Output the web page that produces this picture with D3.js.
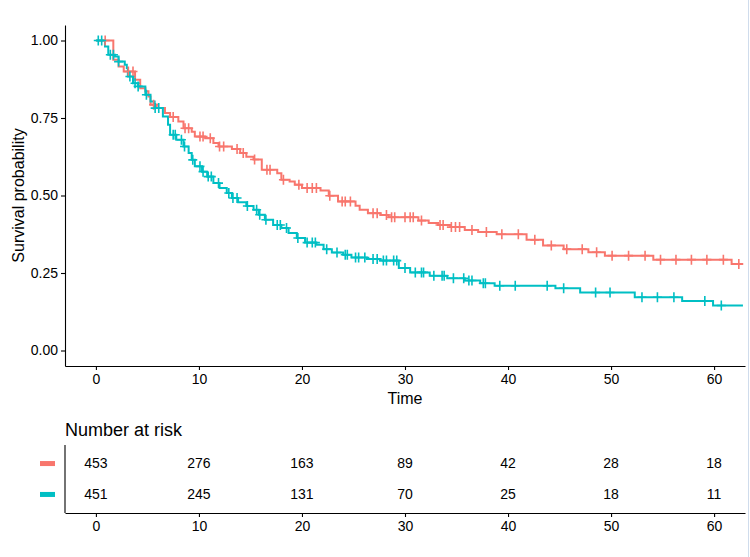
<!DOCTYPE html>
<html>
<head>
<meta charset="utf-8">
<script src="https://cdn.jsdelivr.net/npm/d3@7"></script>
<style>
  html, body { margin: 0; padding: 0; background: #fff; }
  svg { display: block; }
  text { font-family: "Liberation Sans", Arial, sans-serif; fill: #000; }
</style>
</head>
<body>
<svg id="chart" width="750" height="557"></svg>
<script>
// ---------- data ----------
const seriesNames = ["strata1", "strata2"];
const seriesColors = ["#F8766D", "#00BFC4"];

// red curve: step times and survival after the step
const redTimes = [0, 1.69, 2.2, 2.7, 3.8, 4.3, 4.8, 5.1, 5.3, 5.9, 6.7, 7.2, 8.0, 8.5, 9.3, 9.6, 10.6, 11.4, 11.9, 13.2, 14.0, 14.6, 15.3, 16.1, 17.6, 18.0, 18.8, 19.3, 20.0, 21.8, 22.6, 23.5, 25.2, 25.6, 26.4, 27.6, 28.4, 31.3, 32.3, 33.2, 34.4, 35.8, 37.1, 38.9, 41.8, 43.4, 45.4, 47.8, 49.4, 54.1, 61.7];
const redSurv  = [1, 0.938, 0.916, 0.900, 0.873, 0.846, 0.836, 0.819, 0.793, 0.782, 0.766, 0.753, 0.739, 0.717, 0.706, 0.690, 0.685, 0.669, 0.658, 0.650, 0.637, 0.625, 0.616, 0.583, 0.572, 0.551, 0.545, 0.535, 0.524, 0.516, 0.499, 0.481, 0.467, 0.454, 0.443, 0.437, 0.430, 0.419, 0.411, 0.405, 0.398, 0.389, 0.382, 0.375, 0.357, 0.339, 0.327, 0.317, 0.306, 0.293, 0.279];
const redEnd = 62.8;
const redCensor = [0.9, 3.15, 3.6, 5.6, 7.5, 8.65, 9.0, 10.1, 10.4, 11.1, 12.0, 12.4, 13.7, 14.3, 15.4, 16.6, 16.9, 18.2, 19.7, 20.5, 21.0, 21.4, 22.7, 23.9, 24.2, 24.7, 26.9, 27.3, 28.2, 28.7, 29.0, 30.0, 30.5, 30.8, 31.6, 33.4, 33.7, 34.5, 34.9, 35.3, 36.5, 37.9, 39.4, 41.0, 42.6, 44.2, 45.7, 47.2, 48.6, 50.1, 51.7, 53.3, 54.8, 56.3, 57.8, 59.3, 60.9, 62.4];

// teal curve
const tealTimes = [0, 0.88, 1.2, 1.85, 2.2, 2.8, 3.0, 3.1, 3.6, 4.1, 4.8, 5.3, 5.7, 6.5, 7.0, 7.2, 7.8, 8.5, 9.0, 9.3, 9.6, 10.3, 10.8, 11.4, 12.0, 12.7, 13.2, 13.8, 14.6, 15.3, 15.8, 16.4, 17.2, 18.0, 18.7, 19.5, 20.3, 21.4, 22.1, 22.9, 24.0, 24.8, 26.3, 27.6, 29.4, 30.5, 32.4, 34.1, 35.8, 37.3, 38.7, 44.6, 47.0, 52.3, 56.9, 59.9];
const tealSurv  = [1, 0.981, 0.954, 0.948, 0.932, 0.922, 0.911, 0.884, 0.862, 0.852, 0.825, 0.803, 0.782, 0.755, 0.728, 0.696, 0.680, 0.658, 0.637, 0.615, 0.594, 0.577, 0.561, 0.540, 0.524, 0.508, 0.492, 0.478, 0.466, 0.454, 0.438, 0.422, 0.405, 0.395, 0.379, 0.363, 0.348, 0.341, 0.327, 0.316, 0.309, 0.300, 0.295, 0.290, 0.266, 0.252, 0.241, 0.233, 0.226, 0.217, 0.209, 0.201, 0.187, 0.172, 0.160, 0.145];
const tealEnd = 62.8;
const tealCensor = [0.23, 0.56, 1.4, 1.7, 2.2, 3.3, 3.8, 4.1, 4.9, 5.75, 6.1, 7.5, 7.7, 8.3, 8.6, 9.4, 10.1, 10.4, 10.9, 11.2, 11.9, 12.9, 13.3, 13.7, 14.7, 15.6, 15.9, 16.5, 17.6, 17.9, 18.5, 19.6, 20.5, 21.0, 21.3, 22.4, 23.4, 24.2, 24.4, 25.2, 25.5, 26.1, 26.9, 27.3, 27.9, 28.2, 28.9, 29.2, 30.0, 31.0, 31.6, 31.8, 32.8, 33.6, 33.8, 34.7, 35.7, 36.2, 36.5, 37.6, 37.8, 39.2, 40.7, 43.8, 45.4, 48.5, 49.9, 53.0, 54.5, 56.1, 59.1, 60.7];

const timeTicks = [0, 10, 20, 30, 40, 50, 60];
const survTicks = [0, 0.25, 0.5, 0.75, 1];
const riskRed  = [453, 276, 163, 89, 42, 28, 18];
const riskTeal = [451, 245, 131, 70, 25, 18, 11];

const xLabel = "Time";
const yLabel = "Survival probability";
const tableTitle = "Number at risk";

// ---------- layout ----------
const svg = d3.select("#chart");
const left = 65, right = 745;
const plotTop = 25, plotBottom = 366;
const tabTop = 445, tabBottom = 513;

const x = d3.scaleLinear().domain([-3, 63]).range([left, right]);
const y = d3.scaleLinear().domain([-0.05, 1.05]).range([plotBottom, plotTop]);

const series = [
  { name: seriesNames[0], color: seriesColors[0], times: redTimes, surv: redSurv, end: redEnd, censor: redCensor, risk: riskRed },
  { name: seriesNames[1], color: seriesColors[1], times: tealTimes, surv: tealSurv, end: tealEnd, censor: tealCensor, risk: riskTeal }
];

function survAt(s, t) {
  const i = d3.bisectRight(s.times, t) - 1;
  return s.surv[Math.max(0, i)];
}

// ---------- curves ----------
const line = d3.line().x(d => x(d[0])).y(d => y(d[1])).curve(d3.curveStepAfter);
const gCurves = svg.append("g");
series.forEach(s => {
  const pts = s.times.map((t, i) => [t, s.surv[i]]);
  pts.push([s.end, s.surv[s.surv.length - 1]]);
  gCurves.append("path")
    .datum(pts)
    .attr("d", line)
    .attr("fill", "none")
    .attr("stroke", s.color)
    .attr("stroke-width", 2);
});
// censor marks
series.forEach(s => {
  const g = gCurves.append("g");
  s.censor.forEach(t => {
    const cx = x(t), cy = y(survAt(s, t));
    g.append("path")
      .attr("d", `M${cx - 4.5},${cy}H${cx + 4.5}M${cx},${cy - 5}V${cy + 5}`)
      .attr("stroke", s.color)
      .attr("stroke-width", 1.6)
      .attr("fill", "none");
  });
});

// ---------- axes ----------
function styleAxis(g) {
  g.selectAll("path.domain").attr("stroke", "#000").attr("stroke-width", 1.1);
  g.selectAll(".tick line").attr("stroke", "#000").attr("stroke-width", 1.1);
  g.selectAll(".tick text").attr("fill", "#000").style("font-size", "14px")
    .style("font-family", "'Liberation Sans', Arial, sans-serif");
}

const xAxis = svg.append("g")
  .attr("transform", `translate(0,${plotBottom})`)
  .call(d3.axisBottom(x).tickValues(timeTicks).tickSize(4).tickPadding(4).tickSizeOuter(0));
styleAxis(xAxis);

const yAxis = svg.append("g")
  .attr("transform", `translate(${left},0)`)
  .call(d3.axisLeft(y).tickValues(survTicks).tickFormat(d3.format(".2f")).tickSize(4).tickPadding(3).tickSizeOuter(0));
styleAxis(yAxis);

svg.append("text")
  .attr("x", (left + right) / 2).attr("y", 404)
  .attr("text-anchor", "middle")
  .style("font-size", "16px")
  .text(xLabel);

svg.append("text")
  .attr("transform", `translate(24,${y(0.5)}) rotate(-90)`)
  .attr("text-anchor", "middle")
  .style("font-size", "16px")
  .text(yLabel);

// ---------- risk table ----------
const yRow = d3.scaleBand().domain(seriesNames).range([tabTop, tabBottom]).paddingOuter(0.1).paddingInner(0);
// use point positions similar to ggplot discrete scale
const yr = d3.scalePoint().domain(seriesNames).range([tabTop + (tabBottom - tabTop) * 0.6 / 2.2, tabBottom - (tabBottom - tabTop) * 0.6 / 2.2]);

svg.append("text")
  .attr("x", left).attr("y", 436)
  .style("font-size", "18px")
  .text(tableTitle);

const tAxisX = svg.append("g")
  .attr("transform", `translate(0,${tabBottom})`)
  .call(d3.axisBottom(x).tickValues(timeTicks).tickSize(4).tickPadding(4).tickSizeOuter(0));
styleAxis(tAxisX);

svg.append("line")
  .attr("x1", left).attr("x2", left)
  .attr("y1", tabTop).attr("y2", tabBottom)
  .attr("stroke", "#000").attr("stroke-width", 1.1);

series.forEach(s => {
  const cy = yr(s.name);
  svg.append("rect")
    .attr("x", 40).attr("y", cy - 2.5)
    .attr("width", 15).attr("height", 5)
    .attr("fill", s.color);
  svg.append("g").selectAll("text")
    .data(timeTicks)
    .join("text")
    .attr("x", d => x(d))
    .attr("y", cy)
    .attr("dy", "0.35em")
    .attr("text-anchor", "middle")
    .style("font-size", "14px")
    .text((d, i) => s.risk[i]);
});

// faint frame edge on the right
svg.append("line")
  .attr("x1", 748.5).attr("x2", 748.5).attr("y1", 0).attr("y2", 557)
  .attr("stroke", "#cfdcec").attr("stroke-width", 1);
</script>
</body>
</html>
